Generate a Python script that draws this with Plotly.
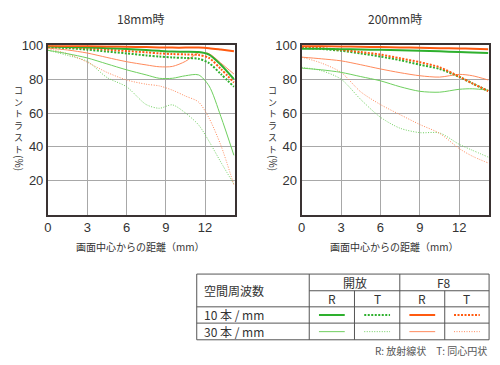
import plotly.graph_objects as go

# ---------------- data ----------------
X_18 = [0, 1.5, 3, 4.5, 6, 7.5, 8.5, 9.5, 10.5, 11.5, 12.3, 13.2, 14.2]
W18_F8_R10 = [99.7, 99.6, 99.5, 99.3, 99.1, 98.9, 98.7, 98.6, 98.6, 98.6, 98.3, 97.5, 96.5]
W18_OP_R10 = [99.2, 99.0, 98.7, 98.3, 97.8, 97.2, 96.7, 96.3, 96.2, 96.0, 94.5, 88.5, 80.0]
W18_F8_T10 = [99.3, 98.8, 98.2, 97.4, 96.6, 95.8, 95.2, 94.8, 94.6, 94.3, 92.5, 86.0, 78.0]
W18_OP_T10 = [99.0, 98.3, 97.4, 96.3, 95.2, 94.0, 93.3, 92.8, 92.5, 92.0, 89.5, 83.0, 75.5]
W18_F8_R30 = [98.3, 97.2, 95.4, 92.8, 90.3, 88.4, 87.3, 87.5, 90.5, 95.5, 95.0, 89.5, 83.0]
W18_OP_R30 = [97.0, 95.0, 92.5, 89.0, 85.5, 82.5, 80.5, 80.5, 82.0, 82.5, 76.0, 58.0, 35.0]
W18_F8_T30 = [98.0, 95.0, 90.0, 84.0, 79.5, 77.0, 76.0, 73.5, 70.0, 66.5, 57.0, 41.0, 17.5]
W18_OP_T30 = [97.0, 94.0, 90.5, 81.0, 75.5, 65.0, 62.8, 64.8, 60.0, 53.0, 43.3, 31.0, 18.0]

X_200 = [0, 1.5, 3, 4.5, 6, 7.5, 9, 10.5, 12, 13, 14.2]
T200_F8_R10 = [99.6, 99.5, 99.3, 99.1, 98.9, 98.7, 98.5, 98.3, 98.1, 97.9, 97.6]
T200_OP_R10 = [98.0, 97.9, 97.7, 97.5, 97.3, 97.0, 96.7, 96.4, 96.0, 95.7, 95.4]
T200_F8_T10 = [99.0, 98.3, 97.3, 96.0, 94.5, 92.3, 90.0, 87.0, 81.5, 77.5, 73.0]
T200_OP_T10 = [98.5, 97.8, 96.7, 95.2, 93.3, 91.2, 88.5, 86.0, 81.3, 77.5, 73.0]
T200_F8_R30 = [93.0, 92.0, 90.8, 88.5, 86.0, 83.8, 82.0, 81.2, 82.8, 82.0, 79.5]
T200_OP_R30 = [86.5, 85.5, 84.0, 81.5, 79.0, 75.5, 72.8, 72.3, 74.0, 74.3, 73.5]
T200_F8_T30 = [93.0, 89.5, 84.0, 72.5, 65.0, 59.0, 53.2, 48.0, 39.0, 34.5, 30.5]
T200_OP_T30 = [87.0, 85.0, 80.0, 68.0, 57.5, 51.0, 48.4, 48.2, 41.5, 38.0, 34.0]

X_TICKS = [0, 3, 6, 9, 12]
Y_TICKS = [20, 40, 60, 80, 100]
TITLES = ["18mm時", "200mm時"]
X_TITLE = "画面中心からの距離（mm）"
Y_TITLE = "コ<br>ン<br>ト<br>ラ<br>ス<br>ト"

# ---------------- styles ----------------
G10 = "#2eb02e"
G30 = "#6fcf5f"
O10 = "#ff5a10"
O30 = "#ff8a5c"
DOT_THICK = "2px,1.5px"
DOT_THIN = "1px,1.5px"
FONT = "Noto Sans CJK JP"
NUMFONT = "Liberation Sans"
TXT = "#333333"

W, H = 500, 365
def px(x):
    return x / W
def py(y):
    return 1 - y / H

fig = go.Figure()

def add(xs, ys, color, width, dash, axis):
    fig.add_trace(go.Scatter(
        x=xs, y=ys, mode="lines",
        line=dict(color=color, width=width, dash=dash, shape="spline", smoothing=0.8),
        xaxis="x" if axis == 1 else "x2", yaxis="y" if axis == 1 else "y2",
        showlegend=False, hoverinfo="skip"))

# 18mm
add(X_18, W18_OP_T30, G30, 1, DOT_THIN, 1)
add(X_18, W18_F8_T30, O30, 1, DOT_THIN, 1)
add(X_18, W18_OP_R30, G30, 1, "solid", 1)
add(X_18, W18_F8_R30, O30, 1, "solid", 1)
add(X_18, W18_OP_T10, G10, 2, DOT_THICK, 1)
add(X_18, W18_F8_T10, O10, 2, DOT_THICK, 1)
add(X_18, W18_OP_R10, G10, 2, "solid", 1)
add(X_18, W18_F8_R10, O10, 2, "solid", 1)
# 200mm
add(X_200, T200_OP_T30, G30, 1, DOT_THIN, 2)
add(X_200, T200_F8_T30, O30, 1, DOT_THIN, 2)
add(X_200, T200_OP_R30, G30, 1, "solid", 2)
add(X_200, T200_F8_R30, O30, 1, "solid", 2)
add(X_200, T200_OP_T10, G10, 2, DOT_THICK, 2)
add(X_200, T200_F8_T10, O10, 2, DOT_THICK, 2)
add(X_200, T200_OP_R10, G10, 2, "solid", 2)
add(X_200, T200_F8_R10, O10, 2, "solid", 2)

xax = dict(range=[0, 14.27], tickvals=X_TICKS, showgrid=True, gridcolor="#a8a8a8", gridwidth=1,
           showline=True, linecolor="#3a3232", linewidth=2, mirror=True, zeroline=False,
           ticks="", tickfont=dict(size=13, color=TXT, family=NUMFONT), fixedrange=True)
yax = dict(range=[0, 100], tickvals=Y_TICKS, showgrid=True, gridcolor="#a8a8a8", gridwidth=1,
           showline=True, linecolor="#3a3232", linewidth=2, mirror=True, zeroline=False,
           ticks="", tickfont=dict(size=13, color=TXT, family=NUMFONT), fixedrange=True)

fig.update_layout(
    width=W, height=H, margin=dict(l=0, r=0, t=0, b=0),
    paper_bgcolor="white", plot_bgcolor="white",
    font=dict(family=FONT, color=TXT),
    xaxis=dict(xax, domain=[px(44.3), px(232.7)], anchor="y"),
    yaxis=dict(yax, domain=[py(211.7), py(39)], anchor="x"),
    xaxis2=dict(xax, domain=[px(300), px(489)], anchor="y2"),
    yaxis2=dict(yax, domain=[py(211.7), py(39)], anchor="x2"),
)

ann = []
def text(x, y, s, size, xanchor="center", color=TXT, angle=0, yanchor="middle"):
    ann.append(dict(x=px(x), y=py(y), xref="paper", yref="paper", text=s, showarrow=False,
                    xanchor=xanchor, yanchor=yanchor, textangle=angle,
                    font=dict(size=size, color=color, family=FONT)))

# titles and axis labels
for cx, ttl, ylx in [(138, TITLES[0], 15), (394, TITLES[1], 271)]:
    text(cx, 12, ttl, 12)
    text(cx, 244, X_TITLE, 10)
    text(ylx, 115, Y_TITLE, 9)
    text(ylx, 159, "(%)", 10, angle=90)

# ---------------- table ----------------
shapes = []
def hline(x0, x1, y, color="#555555", w=1):
    shapes.append(dict(type="line", xref="paper", yref="paper", x0=px(x0), x1=px(x1), y0=py(y), y1=py(y),
                       line=dict(color=color, width=w)))
def vline(x, y0, y1, color="#555555", w=1):
    shapes.append(dict(type="line", xref="paper", yref="paper", x0=px(x), x1=px(x), y0=py(y0), y1=py(y1),
                       line=dict(color=color, width=w)))

L, R, T, B = 194.3, 489, 272.3, 339.3
C1, C2, C3, C4 = 307.7, 353.3, 399, 444.3
R1, R2, R3 = 289.3, 305.7, 322.3
hline(L, R, T); hline(L, R, B); vline(L, T, B); vline(R, T, B)
hline(C1, R, R1); hline(L, R, R2); hline(L, R, R3)
vline(C1, T, B); vline(C3, T, B); vline(C2, R1, B); vline(C4, R1, B)

text(200, 289, "空間周波数", 12, xanchor="left")
text((C1 + C3) / 2, 281, "開放", 12)
text((C3 + R) / 2, 281, "F8", 12)
for cx, s in [((C1 + C2) / 2, "R"), ((C2 + C3) / 2, "T"), ((C3 + C4) / 2, "R"), ((C4 + R) / 2, "T")]:
    text(cx, 297.5, s, 12)
text(200, 314, "10 本 / mm", 12, xanchor="left")
text(200, 331, "30 本 / mm", 12, xanchor="left")
text(R, 350, "R: 放射線状　T: 同心円状", 10, xanchor="right", color="#555555")

# legend samples
samples = [(G10, "solid", 2), (G10, DOT_THICK, 2), (O10, "solid", 2), (O10, DOT_THICK, 2)]
samples30 = [(G30, "solid", 1), (G30, DOT_THIN, 1), (O30, "solid", 1), (O30, DOT_THIN, 1)]
centers = [(C1 + C2) / 2, (C2 + C3) / 2, (C3 + C4) / 2, (C4 + R) / 2]
for ypos, group in [(314, samples), (331, samples30)]:
    for cx, (c, d, w) in zip(centers, group):
        shapes.append(dict(type="line", xref="paper", yref="paper", x0=px(cx - 13), x1=px(cx + 13),
                           y0=py(ypos), y1=py(ypos), line=dict(color=c, width=w, dash=d)))

fig.update_layout(annotations=ann, shapes=shapes)
fig.write_html("out.html", config={"displayModeBar": False},
               post_script="document.body.style.margin='0';document.body.style.padding='0';"
                           "document.documentElement.style.overflow='hidden';")
